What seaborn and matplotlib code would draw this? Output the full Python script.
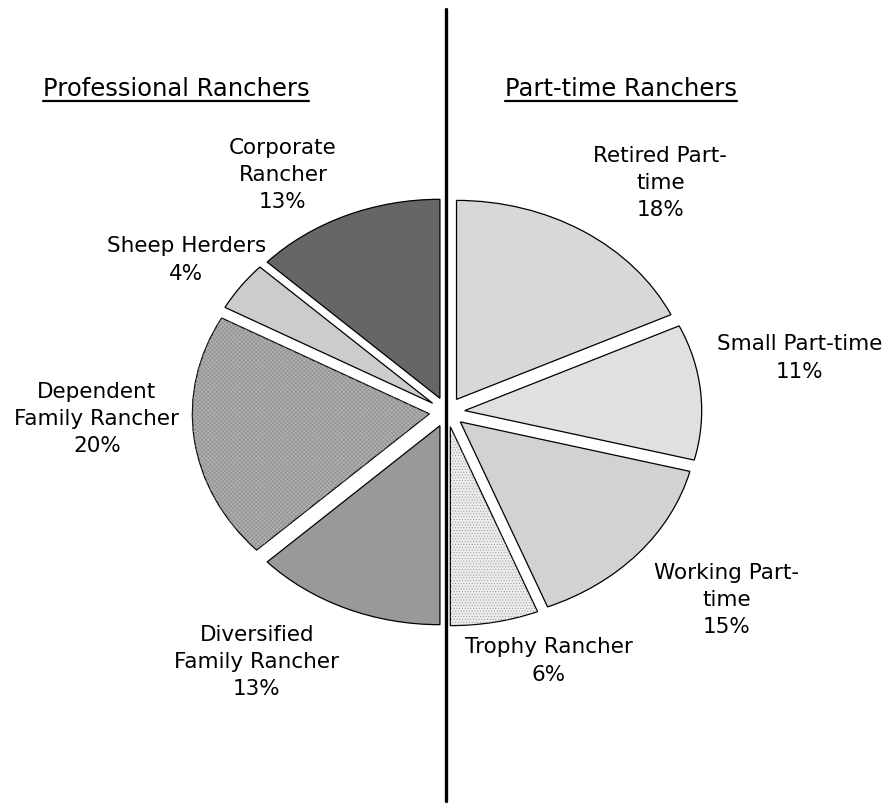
import matplotlib
matplotlib.use("Agg")
import matplotlib.pyplot as plt
import seaborn as sns
from matplotlib.patches import Wedge
from matplotlib.lines import Line2D

# ---- data ----
categories = ["Retired Part-\ntime", "Small Part-time", "Working Part-\ntime",
              "Trophy Rancher", "Diversified\nFamily Rancher",
              "Dependent\nFamily Rancher", "Sheep Herders", "Corporate\nRancher"]
shares = [18, 11, 15, 6, 13, 20, 4, 13]
group_titles = ["Professional Ranchers", "Part-time Ranchers"]

# ---- style ----
slice_colors = ["#d8d8d8", "#e0e0e0", "#d2d2d2", "#ececec",
                "#999999", "#b0b0b0", "#cccccc", "#666666"]
slice_hatches = [None, None, None, "......", None, "xxxxxxxx", None, None]
hatch_colors = [None, None, None, "#9a9a9a", None, "#8c8c8c", None, None]
label_xy = [(0.90, 1.151), (1.489, 0.271), (1.181, -0.945), (0.430, -1.251),
            (-0.802, -1.256), (-1.477, -0.035), (-1.10, 0.764), (-0.692, 1.191)]

sns.set_theme(style="white")
plt.rcParams["font.family"] = ["DejaVu Sans"]
plt.rcParams["hatch.linewidth"] = 0.4

W, H = 887, 811
cx, cy, rx, ry = 447, 412, 237, 199

fig = plt.figure(figsize=(W / 100, H / 100), dpi=100)
ax = fig.add_axes([0, 0, 1, 1])

labels = [f"{c}\n{v}%" for c, v in zip(categories, shares)]
wedges, texts = ax.pie(
    shares, labels=labels, startangle=90, counterclock=False,
    colors=slice_colors, explode=[0.075] * len(shares),
    wedgeprops=dict(edgecolor="black", linewidth=0.9),
    textprops=dict(fontsize=15.5, color="black", linespacing=1.46),
)
for t, (lx, ly) in zip(texts, label_xy):
    t.set_position((lx, ly))
    t.set_ha("center")
    t.set_va("center")
    t.set_multialignment("center")

for w, h, hc in zip(wedges, slice_hatches, hatch_colors):
    if h:
        ov = Wedge(w.center, w.r, w.theta1, w.theta2, fill=False, hatch=h,
                   edgecolor=hc, linewidth=0)
        ax.add_patch(ov)
        w.set_zorder(ov.get_zorder() - 0.1)

ax.set_aspect("auto")
ax.set_xlim(-cx / rx, (W - cx) / rx)
ax.set_ylim(-(H - cy) / ry, cy / ry)
ax.axis("off")

# vertical divider
ax.axvline(-1 / rx, ymin=1 - 801 / H, ymax=1 - 9 / H, color="black", lw=2.4)

# underlined group titles
title_x = [176, 621]
title_objs = []
for tx, s in zip(title_x, group_titles):
    title_objs.append(fig.text(tx / W, 1 - 96 / H, s, ha="center", va="baseline",
                               fontsize=17.5, color="black"))
fig.canvas.draw()
for t in title_objs:
    bb = t.get_window_extent()
    yl = 1 - 101 / H
    fig.add_artist(Line2D([bb.x0 / W, bb.x1 / W], [yl, yl],
                          transform=fig.transFigure, color="black", lw=1.6))

fig.savefig("out.png", dpi=100)
